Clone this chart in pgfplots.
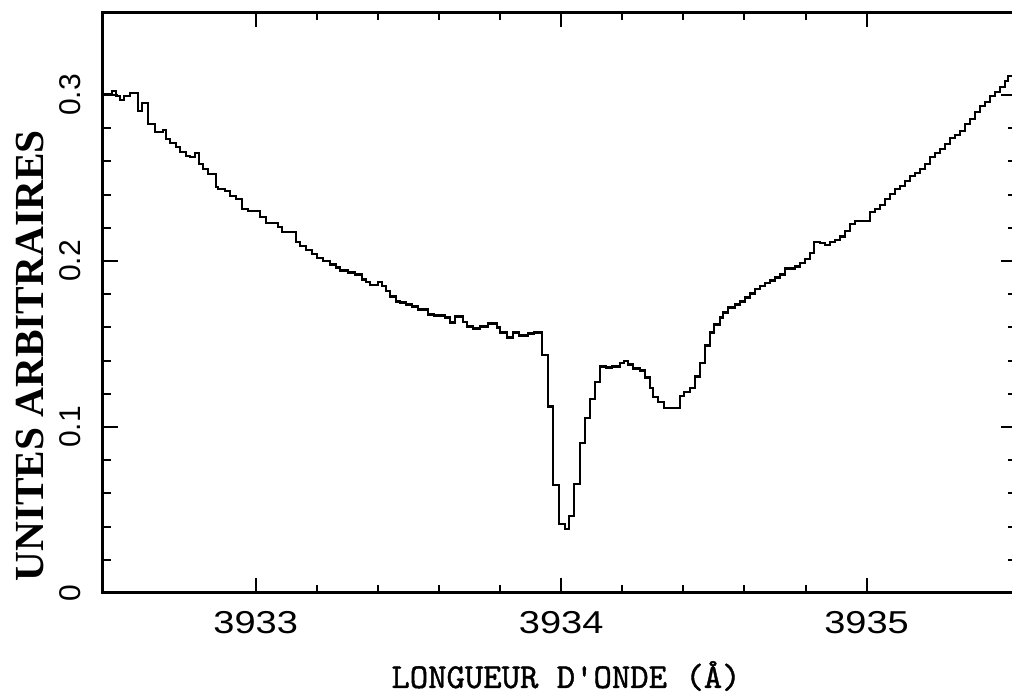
\documentclass[border=0pt]{standalone}
\usepackage{fontspec}
\usepackage{pgfplots}
\pgfplotsset{compat=1.18}
\setmainfont{Liberation Serif}
\newfontfamily\tickfont[FakeStretch=1.2]{Liberation Sans}
\newfontfamily\ytickfont{Liberation Sans}
\newfontfamily\ylabfont{Liberation Serif}
\newfontfamily\xlabfont[FakeBold=1.2]{Latin Modern Mono}
\begin{document}
\begin{tikzpicture}[x=0.3pt,y=0.3pt]
\path[use as bounding box] (0,0) rectangle (1012,695);
\begin{axis}[
  at={(30.9pt,30.6pt)}, anchor=south west,
  scale only axis, width=273.9pt, height=174.3pt,
  xmin=3932.5, xmax=3935.489, ymin=0, ymax=0.35,
  xtick={3933,3934,3935}, ytick={0,0.1,0.2,0.3},
  minor x tick num=4, minor y tick num=4,
  tick align=inside, ticks=both,
  major tick length=4.5pt, minor tick length=2.4pt,
  axis line style={line width=0.9pt}, tick style={line width=0.6pt,black},
  /pgf/number format/assume math mode=true,
  /pgf/number format/1000 sep={},
  xticklabel style={font=\tickfont\fontsize{9.5}{10}\selectfont},
  yticklabel style={font=\ytickfont\fontsize{9}{10}\selectfont, rotate=90, anchor=south},
  xticklabel shift=2pt, yticklabel shift=3pt,
  clip=true,
]
\addplot[const plot, black, line width=0.65pt] coordinates {
(3932.500,0.3005) (3932.529,0.3024) (3932.543,0.2993) (3932.556,0.2969)
(3932.569,0.2993) (3932.588,0.3011) (3932.615,0.2903) (3932.628,0.2951)
(3932.647,0.2824) (3932.670,0.2776) (3932.696,0.2788) (3932.706,0.2734)
(3932.719,0.2710) (3932.739,0.2686) (3932.752,0.2655) (3932.772,0.2631)
(3932.785,0.2625) (3932.801,0.2649) (3932.814,0.2583) (3932.827,0.2553)
(3932.844,0.2523) (3932.870,0.2444) (3932.876,0.2432) (3932.899,0.2420)
(3932.916,0.2390) (3932.935,0.2372) (3932.955,0.2311) (3932.975,0.2299)
(3933.014,0.2263) (3933.034,0.2227) (3933.073,0.2203) (3933.086,0.2173)
(3933.132,0.2112) (3933.145,0.2088) (3933.164,0.2064) (3933.184,0.2040)
(3933.200,0.2016) (3933.220,0.1998) (3933.243,0.1979) (3933.263,0.1961)
(3933.276,0.1943) (3933.302,0.1931) (3933.325,0.1919) (3933.348,0.1889)
(3933.361,0.1871) (3933.374,0.1853) (3933.400,0.1871) (3933.413,0.1847)
(3933.426,0.1817) (3933.439,0.1786) (3933.459,0.1756) (3933.472,0.1750)
(3933.492,0.1738) (3933.511,0.1726) (3933.531,0.1708) (3933.564,0.1678)
(3933.583,0.1672) (3933.619,0.1660) (3933.636,0.1629) (3933.652,0.1666)
(3933.678,0.1635) (3933.692,0.1605) (3933.711,0.1593) (3933.734,0.1605)
(3933.760,0.1623) (3933.790,0.1599) (3933.800,0.1569) (3933.822,0.1539)
(3933.842,0.1569) (3933.862,0.1551) (3933.891,0.1563) (3933.911,0.1569)
(3933.937,0.1436) (3933.957,0.1123) (3933.973,0.0652) (3933.993,0.0416)
(3934.012,0.0386) (3934.025,0.0465) (3934.042,0.0658) (3934.061,0.0905)
(3934.078,0.1056) (3934.094,0.1171) (3934.110,0.1273) (3934.127,0.1364)
(3934.146,0.1358) (3934.166,0.1364) (3934.192,0.1388) (3934.205,0.1400)
(3934.218,0.1376) (3934.235,0.1352) (3934.258,0.1340) (3934.274,0.1298)
(3934.291,0.1237) (3934.300,0.1183) (3934.317,0.1153) (3934.336,0.1116)
(3934.389,0.1189) (3934.402,0.1213) (3934.421,0.1237) (3934.438,0.1304)
(3934.454,0.1388) (3934.471,0.1491) (3934.487,0.1569) (3934.500,0.1617)
(3934.520,0.1660) (3934.529,0.1690) (3934.546,0.1720) (3934.569,0.1738)
(3934.585,0.1756) (3934.601,0.1780) (3934.618,0.1804) (3934.634,0.1829)
(3934.651,0.1847) (3934.667,0.1865) (3934.683,0.1883) (3934.700,0.1901)
(3934.716,0.1919) (3934.732,0.1955) (3934.765,0.1967) (3934.781,0.1986)
(3934.798,0.2010) (3934.814,0.2046) (3934.827,0.2112) (3934.847,0.2106)
(3934.863,0.2094) (3934.880,0.2112) (3934.896,0.2124) (3934.912,0.2148)
(3934.929,0.2179) (3934.945,0.2221) (3934.962,0.2239) (3935.011,0.2293)
(3935.027,0.2311) (3935.043,0.2336) (3935.060,0.2372) (3935.076,0.2402)
(3935.092,0.2432) (3935.109,0.2450) (3935.125,0.2480) (3935.142,0.2511)
(3935.158,0.2529) (3935.174,0.2553) (3935.191,0.2583) (3935.207,0.2625)
(3935.223,0.2649) (3935.240,0.2673) (3935.256,0.2704) (3935.273,0.2740)
(3935.289,0.2758) (3935.305,0.2782) (3935.322,0.2824) (3935.338,0.2855)
(3935.354,0.2897) (3935.371,0.2933) (3935.387,0.2957) (3935.403,0.2993)
(3935.420,0.3017) (3935.436,0.3048) (3935.452,0.3084) (3935.462,0.3114)
(3935.489,0.3114)
};
\end{axis}
\node at (566,19) {\xlabfont\fontsize{10.5}{12}\selectfont LONGUEUR D'ONDE (Å)};
\node[rotate=90] at (30,339) {\ylabfont\bfseries\fontsize{12.4}{14}\selectfont UNITES ARBITRAIRES};
\end{tikzpicture}
\end{document}
